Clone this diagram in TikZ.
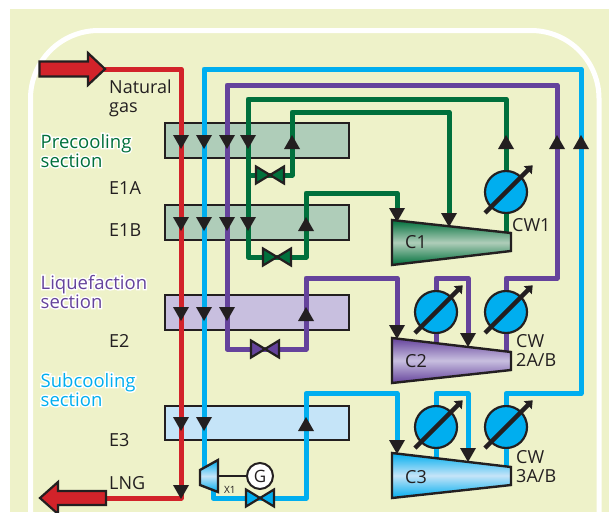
\documentclass[tikz,border=0pt]{standalone}
\usepackage{fontspec}
\setmainfont{Open Sans}
\usetikzlibrary{arrows.meta}
\definecolor{ink}{HTML}{231F20}
\definecolor{panel}{HTML}{EEF2C9}
\definecolor{cred}{HTML}{D2232A}
\definecolor{cblue}{HTML}{00AEEF}
\definecolor{cpurple}{HTML}{65439C}
\definecolor{cgreen}{HTML}{00703C}
\definecolor{lgreen}{HTML}{AFCDB9}
\definecolor{lpurple}{HTML}{C8BFDF}
\definecolor{lblue}{HTML}{C5E4F8}
\newcommand{\glow}[1]{\rlap{\color{white}\addfontfeature{FakeBold=16}#1}#1}
\tikzset{
  pipe/.style={line width=5pt, line join=round},
  bar/.style={draw=ink, line width=2.2pt},
  txt/.style={text=ink, font=\fontsize{18}{19}\selectfont, inner sep=0pt, anchor=base west, align=left},
  sect/.style={font=\fontsize{18.5}{19}\selectfont, inner sep=0pt, anchor=base west, align=left},
  cooler/.style={circle, draw=ink, line width=2.2pt, fill=cblue, minimum size=42pt, inner sep=0pt},
  gauge/.style={draw=ink, line width=4.5pt, -{Triangle[length=7pt,width=11pt]}, shorten >=-1pt},
  machine/.style={draw=ink, line width=2.4pt, line join=miter}
}
\begin{document}
\begin{tikzpicture}[x=1pt,y=-1pt]
  \useasboundingbox (0,0) rectangle (609,512);
  \clip (0,0) rectangle (609,512);
  \fill[panel] (10,9) rectangle (609,512);
  \draw[white, line width=5pt, rounded corners=68pt] (30.5,540) |- (599,30.5) -- (599,540);
  % exchangers
  \node[bar, fill=lgreen, minimum width=184pt, minimum height=35pt, inner sep=0pt] (eonea) at (257,140.5) {};
  \node[bar, fill=lgreen, minimum width=184pt, minimum height=35pt, inner sep=0pt] (eoneb) at (257,222.5) {};
  \node[bar, fill=lpurple, minimum width=184pt, minimum height=35pt, inner sep=0pt] (etwo) at (257,312.5) {};
  \node[bar, fill=lblue, minimum width=184pt, minimum height=34pt, inner sep=0pt] (ethree) at (257,423) {};
  % coolers
  \foreach \name/\cx/\cy in {cwone/506/192,cwtwoa/436/312,cwtwob/506/312,cwthreea/436/427,cwthreeb/506/427}
    \node[cooler] (\name) at (\cx,\cy) {};
  % valves and pipe ends
  \coordinate (vone) at (270,175);
  \coordinate (vtwo) at (277,257);
  \coordinate (vthree) at (265,349);
  \coordinate (vfour) at (260,498);
  \coordinate (cin1) at (397,215);
  \coordinate (cmid1) at (449,220);
  \coordinate (cout1) at (506,233);
  \coordinate (cin2) at (397,332);
  \coordinate (cmid2) at (468,340);
  \coordinate (cwest2) at (436,345);
  \coordinate (cout2) at (506,352);
  \coordinate (cin3) at (397,447);
  \coordinate (cmid3) at (468,455);
  \coordinate (cwest3) at (436,459);
  \coordinate (cout3) at (506,467);
  \coordinate (xin) at (204,470);
  \coordinate (xout) at (213,490);
  \coordinate (xshaft) at (218,476);
  \coordinate (gasin) at (100,69);
  \coordinate (lngout) at (100,498);
  \coordinate (greentee) at (248,175);
  % refrigerant loops
  \draw[pipe, cgreen] (cout1) -- (cwone) |- (248,99) |- (vtwo) -| (306,193) -| (cin1);
  \draw[pipe, cgreen] (greentee) -- (vone) -| (292,112) -| (cmid1);
  \draw[pipe, cpurple] (cout2) -- (cwtwob) |- (557,278) |- (227,85) |- (vthree) -| (306,278) -| (cin2);
  \draw[pipe, cpurple] (cwest2) -- (cwtwoa) |- (468,278) -- (cmid2);
  \draw[pipe, cblue] (cout3) -- (cwthreeb) |- (581,393.5) |- (204,69) -- (xin);
  \draw[pipe, cblue] (xout) |- (vfour) -| (306,393.5) -| (cin3);
  \draw[pipe, cblue] (cwest3) -- (cwthreea) |- (468,393.5) -- (cmid3);
  \draw[pipe, cred] (gasin) -| (181,498) -- (lngout);
  % dials
  \foreach \xy in {(506,192),(436,312),(506,312),(436,427),(506,427)}
    \draw[gauge, shift={\xy}] (-21,21) -- (26,-26);
  % flow markers, pointing down
  \foreach \xy in {(181,135),(204,135),(227,135),(248,135),(181,217),(204,217),(227,217),(248,217),
    (181,307),(204,307),(227,307),(181,417),(204,417),(181,485),
    (397,208),(449,213),(397,325),(468,333),(397,440),(468,448)}
    \fill[ink, shift={\xy}] (-8,0) -- (8,0) -- (0,14) -- cycle;
  % flow markers, pointing up
  \foreach \xy in {(292,135),(306,217),(306,307),(306,417),(506,135),(557,135),(581,135)}
    \fill[ink, shift={\xy}] (-8,14) -- (8,14) -- (0,0) -- cycle;
  % valves
  \foreach \xy/\c in {(270,175)/cgreen,(277,257)/cgreen,(265,349)/cpurple,(260,498)/cblue}
    \draw[bar, fill=\c, line join=miter, shift={\xy}] (-14,-8.5) -- (14,8.5) -- (14,-8.5) -- (-14,8.5) -- cycle;
  % compressors
  \path[machine, top color=cgreen, bottom color=cgreen, middle color=lgreen] (392,220) -- (511,233) -- (511,251) -- (392,265) -- cycle;
  \path[machine, top color=cpurple, bottom color=cpurple, middle color=lpurple] (392,338) -- (511,352) -- (511,370) -- (392,383) -- cycle;
  \path[machine, top color=cblue, bottom color=cblue, middle color=lblue] (392,453) -- (511,467) -- (511,485) -- (392,498) -- cycle;
  % expander and generator
  \path[machine, top color=cblue, bottom color=cblue, middle color=lblue] (200,470) -- (218,460) -- (218,492) -- (200,485) -- cycle;
  \node[circle, draw=ink, line width=2pt, fill=white, minimum size=26pt, inner sep=0pt, text=ink, font=\fontsize{17}{17}\selectfont] (gen) at (260,476) {G};
  \draw[ink, line width=1.5pt] (xshaft) -- (gen);
  % feed and product
  \draw[bar, fill=cred, line join=miter] (39.5,61.5) -- (88,61.5) -- (88,53) -- (105,69) -- (88,85) -- (88,76.5) -- (39.5,76.5) -- cycle;
  \draw[bar, fill=cred, line join=miter] (106,491) -- (58,491) -- (58,482) -- (40,498) -- (58,514) -- (58,505) -- (106,505) -- cycle;
  % labels
  \node[txt] (natural) at (109,112) {Natural\\gas};
  \node[txt] (eonealabel) at (109,194) {E1A};
  \node[txt] (eoneblabel) at (109,236) {E1B};
  \node[txt] (etwolabel) at (109,347) {E2};
  \node[txt] (ethreelabel) at (109,446) {E3};
  \node[txt] (lnglabel) at (109,489) {LNG};
  \node[sect, text=cgreen] (precool) at (40.5,167) {\glow{Precooling}\\\glow{section}};
  \node[sect, text=cpurple] (liquef) at (40.5,308) {\glow{Liquefaction}\\\glow{section}};
  \node[sect, text=cblue] (subcool) at (40.5,406) {\glow{Subcooling}\\\glow{section}};
  \node[txt] (conelabel) at (405,248) {C1};
  \node[txt] (ctwolabel) at (405,367) {C2};
  \node[txt] (cthreelabel) at (405,483) {C3};
  \node[txt] (cwonelabel) at (512,231) {CW1};
  \node[txt] (cwtwolabel) at (516,366) {CW\\2A/B};
  \node[txt] (cwthreelabel) at (516,482) {CW\\3A/B};
  \node[txt, font=\fontsize{10}{10}\selectfont] (xonelabel) at (224,493) {X1};
\end{tikzpicture}
\end{document}
